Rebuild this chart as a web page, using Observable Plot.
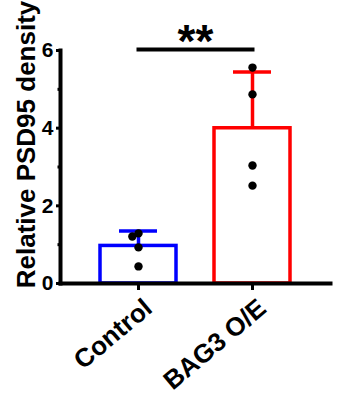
<!DOCTYPE html>
<html>
<head>
<meta charset="utf-8">
<script src="https://cdn.jsdelivr.net/npm/d3@7"></script>
<script src="https://cdn.jsdelivr.net/npm/@observablehq/plot@0.6"></script>
<style>
  html, body { margin: 0; padding: 0; background: #fff; }
</style>
</head>
<body>
<div id="chart"></div>
<script>
// Groups and their outline colours
const groups = ["Control", "BAG3 O/E"];
const groupColors = ["#0000ff", "#ff0000"];

// Individual measurements (relative PSD95 density)
const controlValues = [1.29, 1.21, 0.93, 0.44];
const bag3Values = [5.56, 4.87, 3.04, 2.52];

// Axis ticks and labels
const yMajorTicks = [0, 2, 4, 6];
const yMinorTicks = [1, 3, 5];
const yTitle = "Relative PSD95 density";

// Significance mark between the two groups
const significanceLabel = "**";

const points = [
  ...controlValues.map((v) => ({group: groups[0], value: v})),
  ...bag3Values.map((v) => ({group: groups[1], value: v}))
];

// Mean ± SD per group
const summary = [controlValues, bag3Values].map((vals, i) => {
  const mean = d3.mean(vals);
  const sd = d3.deviation(vals);
  return {group: groups[i], mean, top: mean + sd};
});

const font = "'Liberation Sans', Arial, Helvetica, sans-serif";
// gap between the axes and the outer bars
const gap = 40;
// height of the plotting frame (404 - 50 - 121)
const frameHeight = 233;

const chart = Plot.plot({
  width: 344,
  height: 404,
  marginLeft: 100,
  marginRight: 54,
  marginTop: 50,
  marginBottom: 121,
  style: {fontFamily: font, fontWeight: "bold", background: "#fff", color: "#000", overflow: "visible"},
  fx: {domain: groups, paddingInner: 1 / 3, paddingOuter: 0, label: null},
  y: {domain: [0, 6], label: null},
  color: {domain: groups, range: groupColors},
  marks: [
    // bars (mean)
    Plot.barY(summary, {fx: "group", y: "mean", fill: "white", stroke: "group", strokeWidth: 3.5}),
    // upper SD error bar
    Plot.ruleX(summary, {fx: "group", x: null, y1: "mean", y2: "top", stroke: "group", strokeWidth: 3.5}),
    Plot.tickY(summary, {fx: "group", y: "top", stroke: "group", strokeWidth: 3.5, insetLeft: 19, insetRight: 19}),
    // individual points
    Plot.dot(points, Plot.dodgeX({anchor: "middle", padding: -1.5}, {fx: "group", y: "value", r: 4.2, fill: "black"})),
    // axis lines
    Plot.frame({facet: "super", anchor: "bottom", stroke: "black", strokeWidth: 4, strokeLinecap: "square", insetLeft: -gap, insetRight: -gap}),
    Plot.frame({facet: "super", anchor: "left", stroke: "black", strokeWidth: 4, strokeLinecap: "square", dx: -gap}),
    // y axis: major ticks with labels, minor ticks without
    Plot.axisY({facetAnchor: "left", dx: -gap, ticks: yMajorTicks, tickFormat: d3.format("d"), tickSize: 4, tickPadding: 3, strokeWidth: 3, fontSize: 21, fontWeight: "bold", label: null}),
    Plot.axisY({facetAnchor: "left", dx: -gap, ticks: yMinorTicks, tickFormat: () => "", tickSize: 2.5, strokeWidth: 3, label: null}),
    // y axis title
    Plot.text([yTitle], {facet: "super", frameAnchor: "left", textAnchor: "middle", rotate: -90, dx: -74, dy: -22.5, fontSize: 26, fontWeight: "bold", fill: "black"}),
    // x axis ticks under each group
    Plot.ruleX(groups, {fx: (d) => d, x: null, stroke: "black", strokeWidth: 3, insetTop: frameHeight, insetBottom: -7}),
    // rotated group labels
    Plot.axisFx({anchor: "bottom", tickSize: 0, tickPadding: 21, tickRotate: -40, dx: 10, fontSize: 26, fontWeight: "bold", label: null}),
    // significance bracket just above the top of the y range, between the two group centres
    Plot.frame({facet: "super", anchor: "top", stroke: "black", strokeWidth: 4, insetLeft: 38, insetRight: 38, dy: -1}),
    Plot.text([significanceLabel], {facet: "super", frameAnchor: "top", lineAnchor: "middle", dy: -8.5, fontSize: 46, fontWeight: "bold", fill: "black"})
  ]
});

document.getElementById("chart").appendChild(chart);
</script>
</body>
</html>
